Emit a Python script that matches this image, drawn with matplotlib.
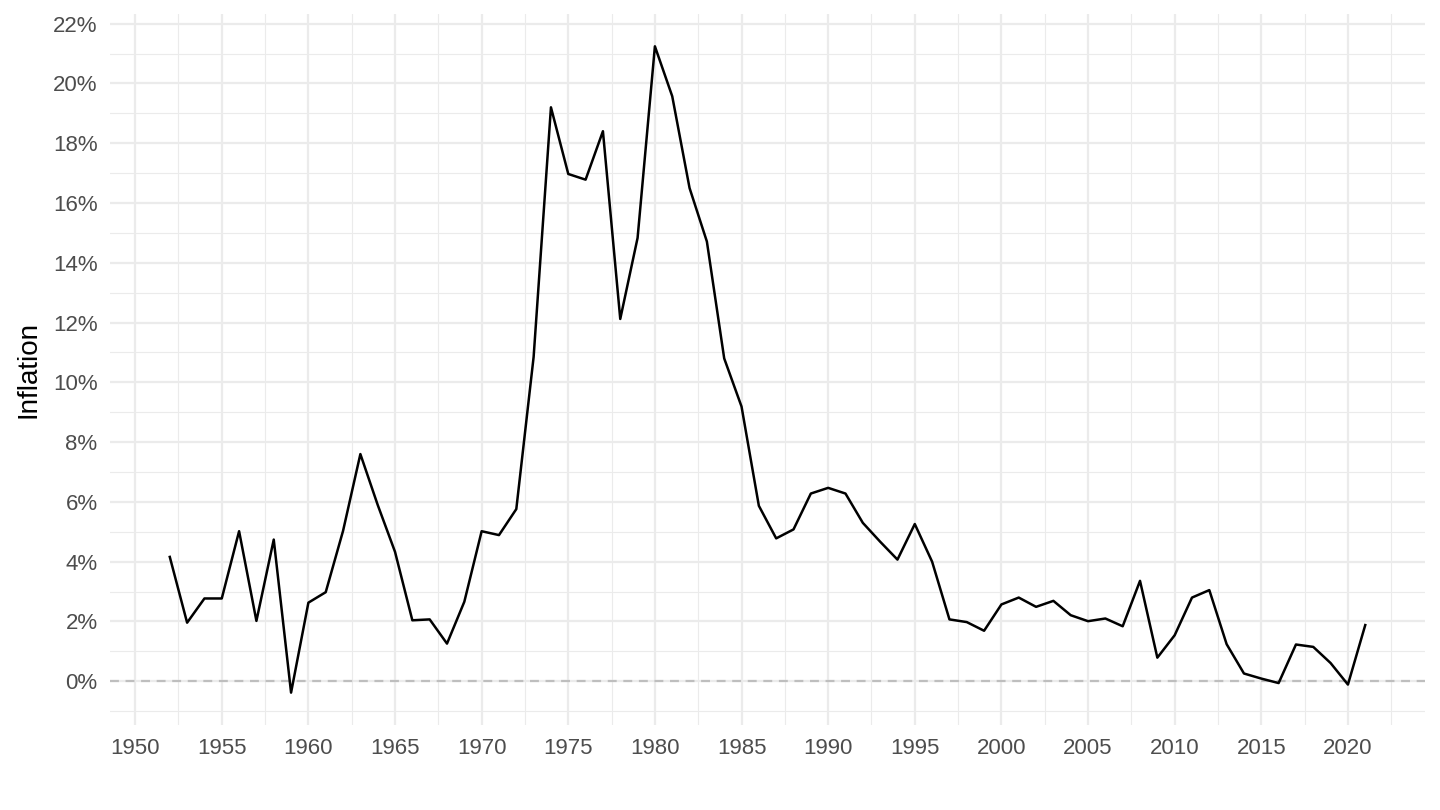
import numpy as np
import matplotlib.pyplot as plt
from matplotlib.ticker import FuncFormatter, MultipleLocator

years = list(range(1952, 2022))
inflation = [4.16, 1.96, 2.77, 2.77, 5.02, 2.02, 4.74, -0.38, 2.63, 2.98,
             5.03, 7.60, 5.90, 4.33, 2.04, 2.07, 1.26, 2.66, 5.02, 4.89,
             5.76, 10.85, 19.20, 16.97, 16.78, 18.40, 12.12, 14.83, 21.24, 19.57,
             16.50, 14.71, 10.80, 9.19, 5.87, 4.78, 5.08, 6.28, 6.47, 6.28,
             5.30, 4.67, 4.07, 5.26, 4.00, 2.07, 1.98, 1.69, 2.57, 2.80,
             2.49, 2.69, 2.21, 2.01, 2.10, 1.84, 3.36, 0.79, 1.54, 2.80,
             3.05, 1.24, 0.26, 0.09, -0.06, 1.23, 1.15, 0.61, -0.11, 1.88]

plt.rcParams['font.family'] = ['Liberation Sans', 'DejaVu Sans']

fig = plt.figure(figsize=(14.4, 8.1), dpi=100)
ax = fig.add_axes([0.0764, 0.105, 0.9132, 0.8777])

ax.axhline(0, color='#bebebe', linestyle=(0, (4, 3)), linewidth=1.6, zorder=2)
ax.plot(years, inflation, color='black', linewidth=1.8, zorder=3)

span = max(years) - min(years)
ax.set_xlim(min(years) - 0.05 * span, max(years) + 0.05 * span)
yspan = max(inflation) - min(inflation)
ax.set_ylim(min(inflation) - 0.05 * yspan, max(inflation) + 0.05 * yspan)

ax.xaxis.set_major_locator(MultipleLocator(5))
ax.xaxis.set_minor_locator(MultipleLocator(2.5))
ax.yaxis.set_major_locator(MultipleLocator(2))
ax.yaxis.set_minor_locator(MultipleLocator(1))
ax.yaxis.set_major_formatter(FuncFormatter(lambda v, p: f'{v:.0f}%'))

ax.grid(which='major', color='#ebebeb', linewidth=1.6, zorder=0)
ax.grid(which='minor', color='#ebebeb', linewidth=0.8, zorder=0)
ax.set_axisbelow(True)
for s in ax.spines.values():
    s.set_visible(False)
ax.tick_params(which='both', length=0, labelsize=16, labelcolor='#4d4d4d')
ax.tick_params(axis='x', pad=9.5)
ax.tick_params(axis='y', pad=9)
ax.set_ylabel('Inflation', fontsize=20)
ax.yaxis.set_label_coords(-0.052, 0.5)

fig.savefig('out.png', dpi=100, facecolor='white')
